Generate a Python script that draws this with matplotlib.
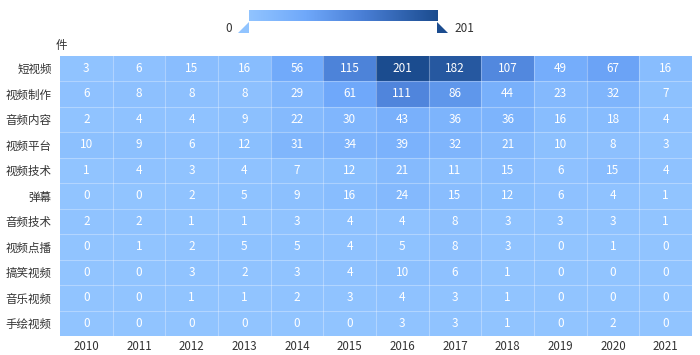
import numpy as np
import matplotlib
matplotlib.use("Agg")
import matplotlib.pyplot as plt
from matplotlib.colors import LinearSegmentedColormap, Normalize
from matplotlib.patches import Polygon

plt.rcParams['font.family'] = ['Noto Sans CJK SC', 'DejaVu Sans']

years = ['2010', '2011', '2012', '2013', '2014', '2015', '2016', '2017', '2018', '2019', '2020', '2021']
categories = ['短视频', '视频制作', '音频内容', '视频平台', '视频技术', '弹幕', '音频技术', '视频点播', '搞笑视频', '音乐视频', '手绘视频']

v_short = [3, 6, 15, 16, 56, 115, 201, 182, 107, 49, 67, 16]
v_make = [6, 8, 8, 8, 29, 61, 111, 86, 44, 23, 32, 7]
v_audio = [2, 4, 4, 9, 22, 30, 43, 36, 36, 16, 18, 4]
v_platform = [10, 9, 6, 12, 31, 34, 39, 32, 21, 10, 8, 3]
v_vtech = [1, 4, 3, 4, 7, 12, 21, 11, 15, 6, 15, 4]
v_danmu = [0, 0, 2, 5, 9, 16, 24, 15, 12, 6, 4, 1]
v_atech = [2, 2, 1, 1, 3, 4, 4, 8, 3, 3, 3, 1]
v_vod = [0, 1, 2, 5, 5, 4, 5, 8, 3, 0, 1, 0]
v_funny = [0, 0, 3, 2, 3, 4, 10, 6, 1, 0, 0, 0]
v_music = [0, 0, 1, 1, 2, 3, 4, 3, 1, 0, 0, 0]
v_draw = [0, 0, 0, 0, 0, 0, 3, 3, 1, 0, 2, 0]

data = np.array([v_short, v_make, v_audio, v_platform, v_vtech, v_danmu,
                 v_atech, v_vod, v_funny, v_music, v_draw])
vmin, vmax = 0, 201

cmap = LinearSegmentedColormap.from_list(
    'vm', [(0.0, '#91c4ff'), (0.3, '#6fa8fa'), (0.6, '#4a7fd6'), (1.0, '#1b4c8f')])
norm = Normalize(vmin, vmax)

W, H = 700, 355
fig = plt.figure(figsize=(W / 100, H / 100), dpi=100)

def ax_rect(x0, y0, x1, y1):
    return [x0 / W, 1 - y1 / H, (x1 - x0) / W, (y1 - y0) / H]

ax = fig.add_axes(ax_rect(60, 55.5, 692, 336))
nr, nc = data.shape
ax.pcolormesh(np.arange(nc + 1), np.arange(nr + 1), data, cmap=cmap, norm=norm, shading='flat')
ax.set_xlim(0, nc)
ax.set_ylim(nr, 0)
for i in range(1, nc):
    ax.axvline(i, color='white', lw=0.8, alpha=0.3)
for j in range(1, nr):
    ax.axhline(j, color='white', lw=0.8, alpha=0.3)
for j in range(nr):
    for i in range(nc):
        ax.text(i + 0.5, j + 0.5, str(data[j, i]), ha='center', va='center',
                color='white', fontsize=8.5)
ax.set_xticks(np.arange(nc) + 0.5)
ax.set_xticklabels(years)
ax.set_yticks(np.arange(nr) + 0.5)
ax.set_yticklabels(categories)
ax.tick_params(length=0, labelsize=8.3, colors='#333333', pad=6)
ax.tick_params(axis='x', pad=3)
for s in ax.spines.values():
    s.set_visible(False)
fig.text(61 / W, 1 - 45 / H, '件', ha='center', va='center', fontsize=8.3, color='#333333')

# visual map colorbar
cax = fig.add_axes(ax_rect(249, 10, 437, 21.5))
grad = np.linspace(0, 1, 256).reshape(1, -1)
cax.imshow(grad, aspect='auto', cmap=cmap, extent=[0, 1, 0, 1])
cax.set_xticks([]); cax.set_yticks([])
for s in cax.spines.values():
    s.set_visible(False)

def fx(x): return x / W
def fy(y): return 1 - y / H
tri_l = Polygon([(fx(238), fy(33)), (fx(249), fy(33)), (fx(249), fy(22))], closed=True,
                transform=fig.transFigure, color=cmap(0.0), lw=0)
tri_r = Polygon([(fx(437), fy(22)), (fx(437), fy(33)), (fx(448), fy(33))], closed=True,
                transform=fig.transFigure, color=cmap(1.0), lw=0)
fig.add_artist(tri_l)
fig.add_artist(tri_r)
fig.text(fx(229), fy(28), str(vmin), ha='center', va='center', fontsize=8.5, color='#333333')
fig.text(fx(464), fy(28), str(vmax), ha='center', va='center', fontsize=8.5, color='#333333')

fig.savefig('out.png', dpi=100)
